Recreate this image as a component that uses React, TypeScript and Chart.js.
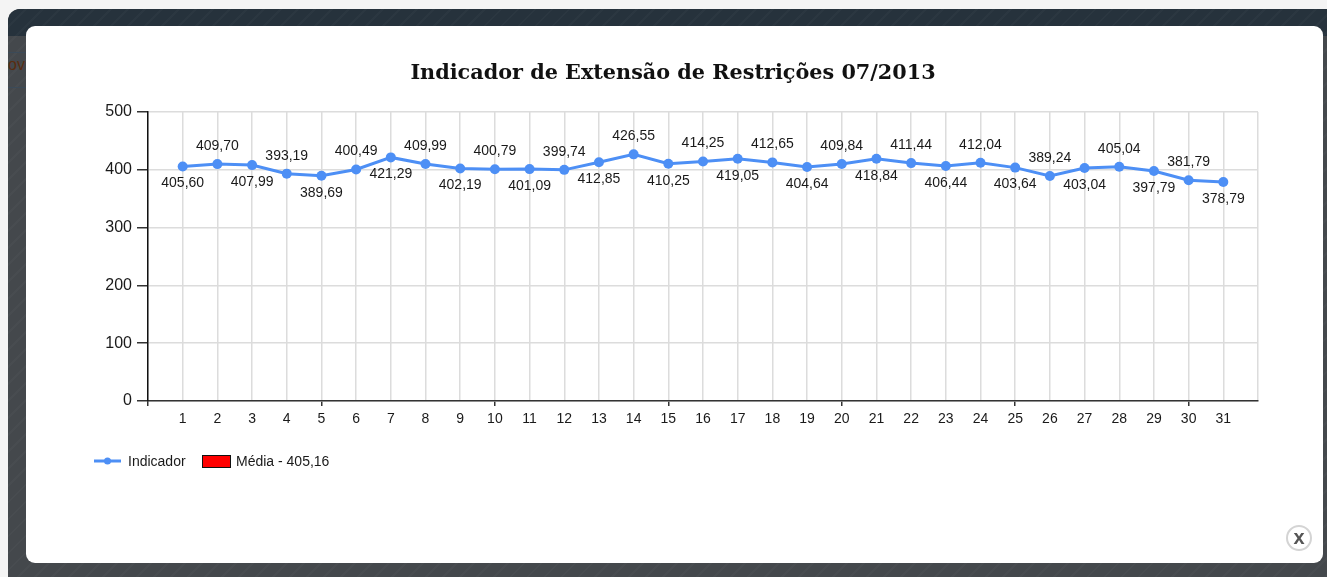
import React, { useEffect, useRef } from "react";
import { Chart, registerables } from "chart.js";

Chart.register(...registerables);

const TITLE = "Indicador de Extensão de Restrições 07/2013";
const days = [1,2,3,4,5,6,7,8,9,10,11,12,13,14,15,16,17,18,19,20,21,22,23,24,25,26,27,28,29,30,31];
const indicador = [405.60,409.70,407.99,393.19,389.69,400.49,421.29,409.99,402.19,400.79,401.09,399.74,412.85,426.55,410.25,414.25,419.05,412.65,404.64,409.84,418.84,411.44,406.44,412.04,403.64,389.24,403.04,405.04,397.79,381.79,378.79];
const seriesName = "Indicador";
const mediaName = "Média - 405,16";
const FONT = '"Liberation Sans", Arial, sans-serif';
const BLUE = "#4d8ff5";

const fmt = (v: number) => v.toFixed(2).replace(".", ",");

const pointLabels = {
  id: "pointLabels",
  afterDatasetsDraw(chart: any) {
    const { ctx } = chart;
    const pts = chart.getDatasetMeta(0).data;
    ctx.save();
    ctx.font = `14px ${FONT}`;
    ctx.fillStyle = "#1a1a1a";
    ctx.textAlign = "center";
    ctx.textBaseline = "middle";
    pts.forEach((p: any, i: number) => {
      const below = i % 2 === 0;
      ctx.fillText(fmt(indicador[i]), p.x, p.y + (below ? 17 : -18));
    });
    ctx.restore();
  },
};

const legendPlugin = {
  id: "customLegend",
  afterDraw(chart: any) {
    const { ctx } = chart;
    const y = 461;
    ctx.save();
    ctx.strokeStyle = BLUE;
    ctx.lineWidth = 3;
    ctx.beginPath();
    ctx.moveTo(94, y);
    ctx.lineTo(121, y);
    ctx.stroke();
    ctx.fillStyle = BLUE;
    ctx.beginPath();
    ctx.arc(107.5, y, 3.5, 0, Math.PI * 2);
    ctx.fill();
    ctx.font = `14px ${FONT}`;
    ctx.fillStyle = "#1a1a1a";
    ctx.textBaseline = "middle";
    ctx.textAlign = "left";
    ctx.fillText(seriesName, 128, y + 1);
    ctx.fillStyle = "#ff0000";
    ctx.strokeStyle = "#111";
    ctx.lineWidth = 1;
    ctx.fillRect(202.5, 455.5, 28, 12);
    ctx.strokeRect(202.5, 455.5, 28, 12);
    ctx.fillStyle = "#1a1a1a";
    ctx.fillText(mediaName, 236, y + 1);
    ctx.restore();
  },
};

export default function App() {
  const ref = useRef<HTMLCanvasElement>(null);
  useEffect(() => {
    document.body.style.margin = "0";
    const chart = new Chart(ref.current!, {
      type: "line",
      data: {
        datasets: [
          {
            label: seriesName,
            data: days.map((d, i) => ({ x: d, y: indicador[i] })),
            borderColor: BLUE,
            backgroundColor: BLUE,
            borderWidth: 3,
            pointRadius: 5,
            pointBackgroundColor: BLUE,
            pointBorderWidth: 0,
            tension: 0,
          },
        ],
      },
      options: {
        responsive: false,
        animation: false,
        layout: { padding: { left: 88, right: 69, top: 0, bottom: 146 } },
        plugins: {
          legend: { display: false },
          tooltip: { enabled: false },
          title: {
            display: true,
            text: TITLE,
            color: "#111",
            font: { family: '"DejaVu Serif", serif', size: 20.75, weight: "bold" },
            padding: { top: 61, bottom: 26 },
          },
        },
        scales: {
          x: {
            type: "linear",
            min: 0,
            max: 32,
            afterFit(s: any) { s.height = 30; },
            border: { color: "#333", width: 1.5 },
            grid: {
              color: "#dcdcdc",
              lineWidth: 1.5,
              tickLength: 5,
              tickColor: (c: any) => (c.tick && c.tick.value % 5 === 0 && c.tick.value < 32 ? "#333" : "rgba(0,0,0,0)"),
            },
            ticks: {
              stepSize: 1,
              autoSkip: false,
              maxRotation: 0,
              color: "#1a1a1a",
              font: { family: FONT, size: 14 },
              padding: 5,
              callback: (v: any) => (v >= 1 && v <= 31 ? String(v) : ""),
            },
          },
          y: {
            min: 0,
            max: 500,
            afterFit(s: any) { s.width = 60; },
            border: { color: "#111", width: 1.5 },
            grid: { color: "#dcdcdc", lineWidth: 1.5, tickLength: 11, tickColor: "#333" },
            ticks: {
              stepSize: 100,
              color: "#1a1a1a",
              font: { family: FONT, size: 16 },
              padding: 5,
            },
          },
        },
      },
      plugins: [pointLabels, legendPlugin],
    } as any);
    return () => chart.destroy();
  }, []);

  const stripes =
    "repeating-linear-gradient(135deg, rgba(255,255,255,0.025) 0 2px, rgba(255,255,255,0) 2px 12px)";

  return (
    <div style={{ position: "relative", width: 1327, height: 577, overflow: "hidden", background: "#f4f4f4" }}>
      <div style={{ position: "absolute", left: 8, top: 9, right: 0, bottom: 0, background: `${stripes}, #44484c`, borderTopLeftRadius: 12 }}>
        <div style={{ position: "absolute", left: 0, top: 0, right: 0, height: 27, background: `${stripes}, #26323c`, borderTopLeftRadius: 12 }} />
        <div style={{ position: "absolute", left: 0, top: 43, width: 18, height: 34, borderTop: "1px solid #3b4a58", borderBottom: "1px solid #3b4a58", color: "#5a2c10", fontFamily: FONT, fontSize: 16, lineHeight: "24px", overflow: "hidden" }}>ov</div>
      </div>
      <div style={{ position: "absolute", left: 26, top: 26, width: 1297, height: 537, background: "#fff", borderRadius: 9 }} />
      <canvas ref={ref} width={1327} height={577} style={{ position: "absolute", left: 0, top: 0, display: "block" }} />
      <div style={{ position: "absolute", left: 1286, top: 525, width: 22, height: 22, borderRadius: "50%", border: "2px solid #d4d4d4", background: "#fff", color: "#555", fontFamily: FONT, fontWeight: "bold", fontSize: 20, lineHeight: "20px", textAlign: "center" }}>x</div>
    </div>
  );
}
